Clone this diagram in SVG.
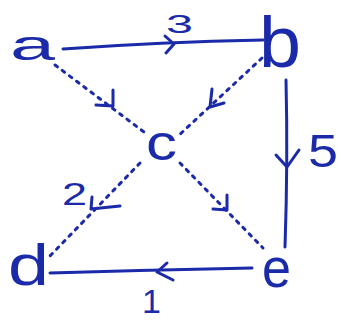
<svg xmlns="http://www.w3.org/2000/svg" width="341" height="321" viewBox="0 0 341 321">
<style>
.t{font-family:"Liberation Sans","DejaVu Sans",sans-serif;fill:#1b2aa8}
.e{fill:none;stroke:#1b2aa8;stroke-width:3;stroke-linecap:round;stroke-linejoin:round}
.d{stroke-dasharray:3 6}
</style>
<rect width="341" height="321" fill="#ffffff"/>
<g id="connectors">
<path class="e" d="M63,49 Q160,42 263,40"/>
<polyline class="e" points="165,36 174,44 166,53"/>
<path class="e" d="M286,80 Q288,160 285,247"/>
<polyline class="e" points="276,155 287,167 299,150"/>
<path class="e" d="M252,268 Q150,270 50,273"/>
<polyline class="e" points="167,263 157,272 173,280"/>
<path class="e d" d="M55,65 L148,135"/>
<polyline class="e" points="113,90 113,106 96,105"/>
<path class="e d" d="M262,58 L177,137"/>
<polyline class="e" points="212,89 210,107 224,103"/>
<path class="e d" d="M140,163 L48,258"/>
<polyline class="e" points="92,197 91,209 120,206"/>
<path class="e d" d="M180,163 L263,248"/>
<polyline class="e" points="227,195 227,210 213,209"/>
<text class="t" x="166" y="33" font-size="26" textLength="27" lengthAdjust="spacingAndGlyphs">3</text>
<text class="t" x="308" y="167" font-size="46" textLength="30" lengthAdjust="spacingAndGlyphs">5</text>
<text class="t" x="62" y="205" font-size="31" textLength="25" lengthAdjust="spacingAndGlyphs">2</text>
<text class="t" x="142" y="313" font-size="34">1</text>
</g>
<g id="a"><text class="t" x="10" y="60" font-size="42" textLength="45" lengthAdjust="spacingAndGlyphs">a</text></g>
<g id="b"><text class="t" x="259" y="67" font-size="72" textLength="42" lengthAdjust="spacingAndGlyphs">b</text></g>
<g id="c"><text class="t" x="146" y="160" font-size="50" textLength="31" lengthAdjust="spacingAndGlyphs">c</text></g>
<g id="d"><text class="t" x="8" y="285" font-size="58" textLength="41" lengthAdjust="spacingAndGlyphs">d</text></g>
<g id="e"><text class="t" x="262" y="287" font-size="56" textLength="29" lengthAdjust="spacingAndGlyphs">e</text></g>
</svg>
